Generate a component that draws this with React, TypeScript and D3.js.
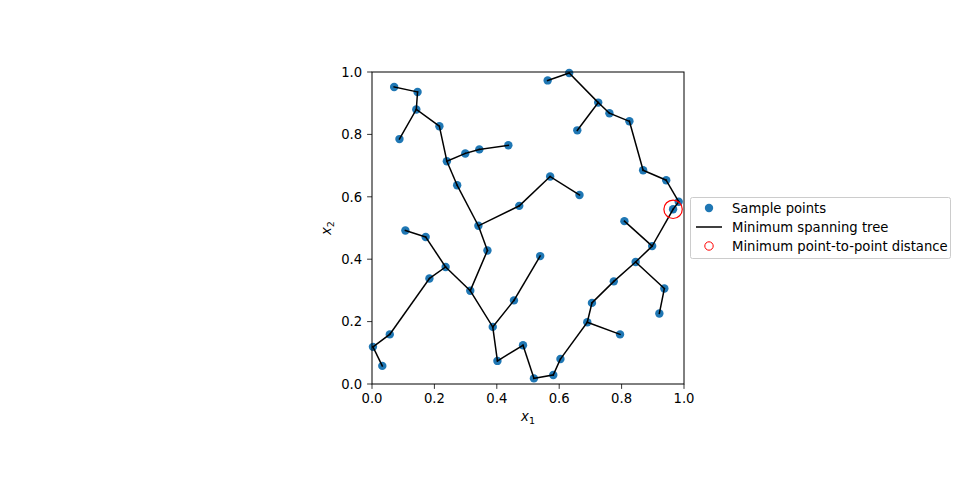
import React from "react";
import * as d3 from "d3";

const xs = [0.071, 0.146, 0.142, 0.088, 0.216, 0.240, 0.299, 0.344, 0.437, 0.273, 0.341, 0.472,
  0.563, 0.632, 0.725, 0.658, 0.761, 0.825, 0.869, 0.943, 0.983, 0.965, 0.571, 0.665, 0.809,
  0.107, 0.172, 0.370, 0.236, 0.184, 0.315, 0.455, 0.387, 0.057, 0.003, 0.033, 0.402, 0.484, 0.539,
  0.898, 0.845, 0.937, 0.921, 0.775, 0.705, 0.690, 0.795, 0.604, 0.581, 0.519];
const ys = [0.952, 0.936, 0.880, 0.785, 0.826, 0.714, 0.739, 0.752, 0.765, 0.637, 0.507, 0.571,
  0.973, 0.997, 0.902, 0.813, 0.868, 0.842, 0.685, 0.653, 0.584, 0.560, 0.665, 0.606, 0.522,
  0.492, 0.471, 0.428, 0.375, 0.338, 0.299, 0.268, 0.183, 0.159, 0.119, 0.058, 0.074, 0.124, 0.410,
  0.442, 0.391, 0.306, 0.226, 0.329, 0.260, 0.198, 0.159, 0.080, 0.029, 0.018];
// indices (0-based) into xs/ys
const edgeFrom = [0, 1, 2, 2, 4, 5, 6, 7, 5, 9, 10, 11, 22, 10, 27,
  12, 13, 14, 14, 16, 17, 18, 19, 20, 21,
  24, 39, 40, 41, 40, 43, 44, 45, 45, 47, 48, 49, 37, 36, 32, 31, 32, 30, 28, 26, 28, 29, 33, 34];
const edgeTo = [1, 2, 3, 4, 5, 6, 7, 8, 9, 10, 11, 22, 23, 27, 30,
  13, 14, 15, 16, 17, 18, 19, 20, 21, 39,
  39, 40, 41, 42, 43, 44, 45, 46, 47, 48, 49, 37, 36, 32, 31, 38, 30, 28, 26, 25, 29, 33, 34, 35];
const minIndex = 21;
const ticks = [0, 0.2, 0.4, 0.6, 0.8, 1.0];

export default function App() {
  const left = 372, right = 684, top = 72, bottom = 384;
  const x = d3.scaleLinear().domain([0, 1]).range([left, right]);
  const y = d3.scaleLinear().domain([0, 1]).range([bottom, top]);
  const font = "DejaVu Sans, sans-serif";
  return (
    <svg width={960} height={480} style={{ position: "absolute", left: 0, top: 0 }} fontFamily={font}>
      <rect width={960} height={480} fill="white" />
      {xs.map((v, i) => (
        <circle key={i} cx={x(v)} cy={y(ys[i])} r={4.2} fill="#1f77b4" />
      ))}
      {edgeFrom.map((a, i) => (
        <line key={i} x1={x(xs[a])} y1={y(ys[a])} x2={x(xs[edgeTo[i]])} y2={y(ys[edgeTo[i]])}
          stroke="black" strokeWidth={1.5} strokeLinecap="square" />
      ))}
      <circle cx={x(xs[minIndex])} cy={y(ys[minIndex])} r={9.2} fill="none" stroke="red" strokeWidth={1.2} />
      <rect x={left} y={top} width={right - left} height={bottom - top} fill="none" stroke="black" strokeWidth={1} />
      {ticks.map((t) => (
        <g key={"x" + t}>
          <line x1={x(t)} x2={x(t)} y1={bottom} y2={bottom + 4.9} stroke="black" strokeWidth={0.8} />
          <text x={x(t)} y={bottom + 19} fontSize={13.2} textAnchor="middle">{t.toFixed(1)}</text>
        </g>
      ))}
      {ticks.map((t) => (
        <g key={"y" + t}>
          <line x1={left - 4.9} x2={left} y1={y(t)} y2={y(t)} stroke="black" strokeWidth={0.8} />
          <text x={left - 9.8} y={y(t) + 4.8} fontSize={13.2} textAnchor="end">{t.toFixed(1)}</text>
        </g>
      ))}
      <text x={528} y={421} fontSize={13.2} textAnchor="middle">
        <tspan fontStyle="italic">x</tspan><tspan fontSize={9.5} dy={3}>1</tspan>
      </text>
      <text transform={`translate(331,228) rotate(-90)`} fontSize={13.2} textAnchor="middle">
        <tspan fontStyle="italic">x</tspan><tspan fontSize={9.5} dy={3}>2</tspan>
      </text>
      <g>
        <rect x={690.5} y={197.5} width={260} height={61} rx={2} fill="white" fillOpacity={0.8} stroke="#cccccc" strokeWidth={1} />
        <circle cx={709} cy={208} r={4.2} fill="#1f77b4" />
        <text x={732} y={212.5} fontSize={13.2}>Sample points</text>
        <line x1={696} x2={722} y1={227} y2={227} stroke="black" strokeWidth={1.5} />
        <text x={732} y={231.5} fontSize={13.2}>Minimum spanning tree</text>
        <circle cx={709} cy={246} r={4.2} fill="none" stroke="red" strokeWidth={1} />
        <text x={732} y={250.5} fontSize={13.2}>Minimum point-to-point distance</text>
      </g>
    </svg>
  );
}
